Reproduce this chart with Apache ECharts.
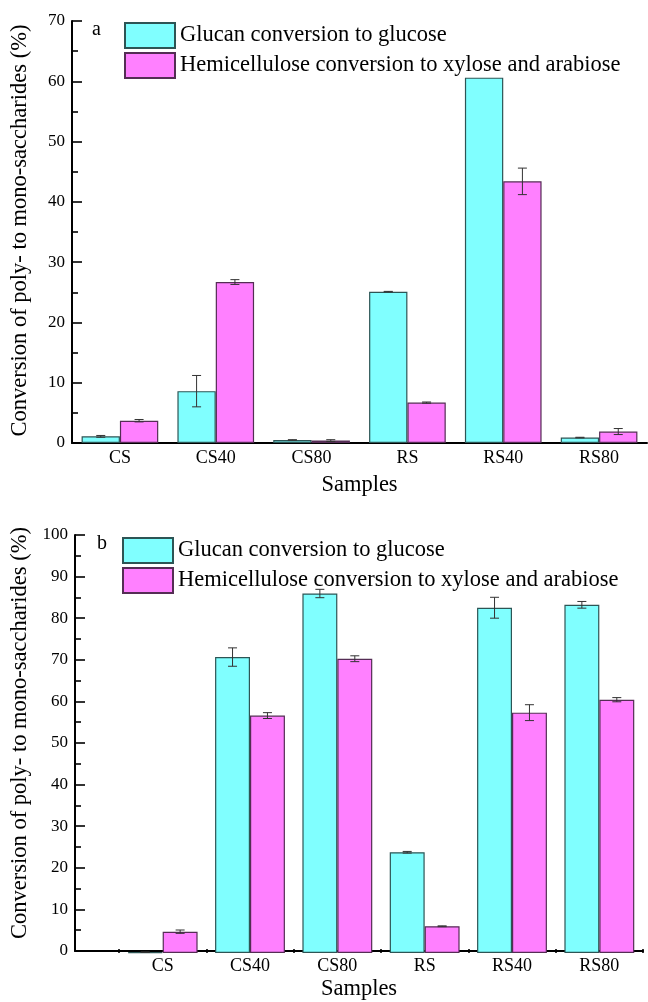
<!DOCTYPE html>
<html><head><meta charset="utf-8">
<script src="https://cdn.jsdelivr.net/npm/echarts@6/dist/echarts.min.js"></script>
<style>html,body{margin:0;padding:0;background:#fff}#c{width:648px;height:1002px}</style>
</head><body><div id="c"></div>
<script>
const categories = ['CS','CS40','CS80','RS','RS40','RS80'];
const seriesNames = ['Glucan conversion to glucose','Hemicellulose conversion to xylose and arabiose'];
const glucoseA = [1.1, 8.6, 0.5, 25.1, 60.6, 0.9];
const glucoseErrA = [0.15, 2.6, 0.05, 0.05, 0, 0.05];
const hemiA = [3.7, 26.7, 0.4, 6.7, 43.4, 1.9];
const hemiErrA = [0.2, 0.4, 0.15, 0.1, 2.2, 0.5];
const glucoseB = [0.2, 70.8, 86.0, 24.1, 82.6, 83.3];
const glucoseErrB = [0.05, 2.2, 1.0, 0.2, 2.5, 0.8];
const hemiB = [5.1, 56.8, 70.4, 6.4, 57.5, 60.6];
const hemiErrB = [0.4, 0.7, 0.7, 0.1, 1.9, 0.5];
const yTitle = 'Conversion of poly- to mono-saccharides (%)';
const xTitle = 'Samples';

const FONT = '"Liberation Serif", "Times New Roman", serif';
const CYAN = '#80ffff', MAG = '#ff80ff';
const BAR_FRAC = 0.4;

function errData(vals, errs, side){
  return vals.map((v,i)=>[i, v, errs[i], side]);
}
function renderErr(params, api){
  const i = api.value(0), v = api.value(1), e = api.value(2), side = api.value(3);
  if (!(e > 0)) return null;
  const bw = api.size([1,0])[0];
  const c = api.coord([i, v]);
  const cx = c[0] + side * bw * BAR_FRAC / 2;
  const yt = api.coord([i, v + e])[1];
  const yb = api.coord([i, Math.max(v - e, 0)])[1];
  const w = 4.5;
  const st = {stroke:'#333', lineWidth:1};
  return {type:'group', children:[
    {type:'line', shape:{x1:cx,y1:yt,x2:cx,y2:yb}, style:st},
    {type:'line', shape:{x1:cx-w,y1:yt,x2:cx+w,y2:yt}, style:st},
    {type:'line', shape:{x1:cx-w,y1:yb,x2:cx+w,y2:yb}, style:st}
  ]};
}
const axisLineStyle = {color:'#000', width:2};
const tickStyle = {color:'#000', width:1.6};
function barSeries(name, data, color, border, xi, yi){
  return {type:'bar', name, data, xAxisIndex:xi, yAxisIndex:yi,
    barGap:'0%', barCategoryGap:'20%',
    itemStyle:{color, borderColor:border, borderWidth:1.2}};
}
function errSeries(vals, errs, side, xi, yi){
  return {type:'custom', data:errData(vals, errs, side), xAxisIndex:xi, yAxisIndex:yi,
    renderItem:renderErr, z:5, silent:true, encode:{x:0,y:1}};
}
function yAxisDef(gi, max, shiftUp){
  return {type:'value', gridIndex:gi, min:0, max, interval:10,
    name:yTitle, nameLocation:'middle', nameGap:40,
    nameTextStyle:{fontFamily:FONT, fontSize:22.5, color:'#000', padding:[0,0,0,shiftUp*2]},
    axisLine:{show:true, lineStyle:axisLineStyle},
    axisTick:{show:true, inside:true, length:10, lineStyle:tickStyle},
    minorTick:{show:true, splitNumber:2, length:6, lineStyle:tickStyle},
    splitLine:{show:false},
    axisLabel:{fontFamily:FONT, fontSize:17, color:'#000', margin:7}};
}
function legendDef(left, top){
  return {left, top, orient:'vertical', icon:'rect', itemWidth:50, itemHeight:25, itemGap:3,
    data:seriesNames, selectedMode:false,
    textStyle:{fontFamily:FONT, fontSize:22.5, color:'#000'}};
}
const chart = echarts.init(document.getElementById('c'), null, {renderer:'canvas'});
chart.setOption({
  animation:false,
  backgroundColor:'#fff',
  grid:[
    {left:72, right:1, top:21, bottom:559},
    {left:75, right:5, top:535, bottom:49},
    {left:119, right:5, top:535, bottom:49}
  ],
  xAxis:[
    {type:'category', gridIndex:0, data:categories,
      name:xTitle, nameLocation:'middle', nameGap:31,
      nameTextStyle:{fontFamily:FONT, fontSize:22.5, color:'#000'},
      axisLine:{lineStyle:axisLineStyle},
      axisTick:{inside:true, length:4, lineStyle:tickStyle},
      axisLabel:{fontFamily:FONT, fontSize:18, color:'#000', margin:6}},
    {type:'value', gridIndex:1, min:0, max:1,
      name:xTitle, nameLocation:'middle', nameGap:27,
      nameTextStyle:{fontFamily:FONT, fontSize:22.5, color:'#000'},
      axisLine:{show:true, onZero:false, lineStyle:axisLineStyle},
      axisTick:{show:false}, axisLabel:{show:false}, splitLine:{show:false}},
    {type:'category', gridIndex:2, data:categories,
      axisLine:{show:false},
      axisTick:{show:true, inside:true, length:4, lineStyle:tickStyle},
      axisLabel:{fontFamily:FONT, fontSize:18, color:'#000', margin:4}}
  ],
  yAxis:[
    yAxisDef(0, 70, 1.5),
    yAxisDef(1, 100, 10),
    {type:'value', gridIndex:2, min:0, max:100, interval:10, show:false}
  ],
  legend:[ legendDef(119, 17), legendDef(117, 532) ],
  graphic:[
    {type:'text', left:92, top:20, style:{text:'a', font:'20px '+FONT, fill:'#000'}},
    {type:'text', left:97, top:534, style:{text:'b', font:'20px '+FONT, fill:'#000'}}
  ],
  series:[
    barSeries(seriesNames[0], glucoseA, CYAN, '#2d5555', 0, 0),
    barSeries(seriesNames[1], hemiA, MAG, '#552d55', 0, 0),
    errSeries(glucoseA, glucoseErrA, -1, 0, 0),
    errSeries(hemiA, hemiErrA, 1, 0, 0),
    barSeries(seriesNames[0], glucoseB, CYAN, '#2d5555', 2, 2),
    barSeries(seriesNames[1], hemiB, MAG, '#552d55', 2, 2),
    errSeries(glucoseB, glucoseErrB, -1, 2, 2),
    errSeries(hemiB, hemiErrB, 1, 2, 2)
  ]
});
</script></body></html>
